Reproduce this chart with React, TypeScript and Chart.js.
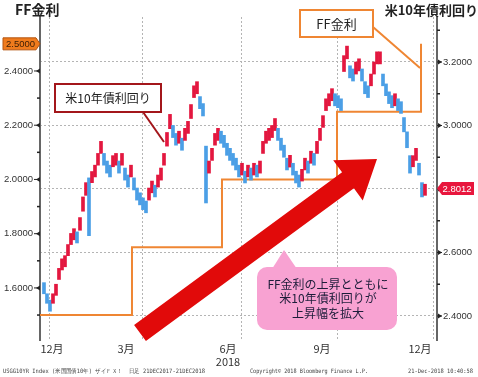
import React, { useEffect, useRef } from 'react';
import { Chart, registerables } from 'chart.js';

Chart.register(...registerables);

// US 10Y yield, daily-ish bars (every ~2 trading days), low / high
const yieldLow = [
  2.470, 2.440, 2.415, 2.440, 2.465, 2.515, 2.545, 2.555, 2.590, 2.625,
  2.640, 2.630, 2.670, 2.730, 2.780, 2.653, 2.820, 2.838, 2.875, 2.912,
  2.875, 2.850, 2.838, 2.870, 2.875, 2.850, 2.875, 2.828, 2.806, 2.838,
  2.797, 2.765, 2.750, 2.735, 2.725, 2.765, 2.788, 2.775, 2.806, 2.828,
  2.875, 2.935, 2.990, 2.962, 2.938, 2.944, 2.922, 2.953, 2.975, 3.022,
  3.088, 3.100, 3.053, 3.030, 2.756, 2.850, 2.890, 2.938, 2.953, 2.944,
  2.931, 2.906, 2.890, 2.875, 2.860, 2.838, 2.844, 2.819, 2.838, 2.828,
  2.844, 2.838, 2.850, 2.912, 2.944, 2.953, 2.962, 2.984, 2.953, 2.922,
  2.900, 2.860, 2.869, 2.844, 2.819, 2.806, 2.825, 2.860, 2.850, 2.881,
  2.875, 2.912, 2.953, 2.994, 3.047, 3.062, 3.078, 3.062, 3.056, 3.047,
  3.170, 3.210, 3.150, 3.140, 3.162, 3.172, 3.140, 3.100, 3.088, 3.125,
  3.162, 3.194, 3.194, 3.125, 3.094, 3.069, 3.056, 3.062, 3.047, 3.038,
  2.980, 2.930, 2.850, 2.870, 2.890, 2.844, 2.775, 2.780,
];
const yieldHigh = [
  2.505, 2.470, 2.450, 2.470, 2.500, 2.550, 2.580, 2.590, 2.625, 2.660,
  2.675, 2.665, 2.710, 2.775, 2.820, 2.835, 2.855, 2.875, 2.912, 2.950,
  2.912, 2.888, 2.875, 2.905, 2.912, 2.888, 2.912, 2.866, 2.844, 2.875,
  2.835, 2.803, 2.788, 2.772, 2.762, 2.803, 2.825, 2.812, 2.844, 2.866,
  2.912, 2.978, 3.035, 3.000, 2.975, 2.982, 2.960, 2.991, 3.013, 3.066,
  3.125, 3.138, 3.091, 3.069, 2.935, 2.888, 2.928, 2.975, 2.991, 2.982,
  2.969, 2.944, 2.928, 2.912, 2.897, 2.875, 2.881, 2.856, 2.875, 2.866,
  2.881, 2.875, 2.888, 2.950, 2.982, 2.991, 3.000, 3.022, 2.991, 2.960,
  2.938, 2.897, 2.906, 2.881, 2.856, 2.844, 2.862, 2.897, 2.888, 2.919,
  2.912, 2.950, 2.991, 3.031, 3.084, 3.100, 3.116, 3.100, 3.094, 3.084,
  3.220, 3.250, 3.188, 3.178, 3.200, 3.210, 3.178, 3.138, 3.125, 3.162,
  3.200, 3.232, 3.232, 3.162, 3.131, 3.106, 3.094, 3.100, 3.084, 3.075,
  3.025, 2.980, 2.905, 2.905, 2.928, 2.881, 2.820, 2.815,
];
const yieldLast = 2.8012;

// FF rate (upper bound) step line: change points on the day axis
const ffDays = [-1.33, 29.33, 59.33, 97.67, 125.67];
const ffRate = [1.5, 1.75, 2.0, 2.25, 2.5];

// x axis: quarter grid lines and month labels (day index positions)
const gridDays = [1.67, 33, 66, 97.67, 129.67];
const monthDays = [2.67, 27.33, 61.33, 92.67, 125.33];
const monthLabels: (string | string[])[] = ['12月', '3月', ['6月', '2018'], '9月', '12月'];

const leftTicks = [1.5, 1.6, 1.7, 1.8, 1.9, 2.0, 2.1, 2.2, 2.3, 2.4, 2.5];
const rightTicks = [2.4, 2.5, 2.6, 2.7, 2.8, 2.9, 3.0, 3.1, 3.2, 3.3];

const RED = '#e3173f';
const BLUE = '#4b9fe6';
const ORANGE = '#ef8633';
const AXIS = '#666666';
const GRID = '#b4b4b4';
const TEXT = '#333333';

const isMajor = (v: number) => Math.abs(Math.round(v * 10) % 2) === 0;

export default function App() {
  const ref = useRef<HTMLCanvasElement | null>(null);

  useEffect(() => {
    const canvas = ref.current;
    if (!canvas) return;

    const mids = yieldLow.map((lo, i) => (lo + yieldHigh[i]) / 2);
    const barColors = mids.map((m, i) => (i === 0 ? BLUE : m >= mids[i - 1] ? RED : BLUE));

    const overlay = {
      id: 'overlay',
      afterDraw(chart: any) {
        const ctx = chart.ctx as CanvasRenderingContext2D;
        const yL = chart.scales.yL;
        const yR = chart.scales.yR;
        const area = chart.chartArea;
        ctx.save();

        // tick markers
        ctx.fillStyle = '#222';
        ctx.strokeStyle = '#222';
        leftTicks.forEach((v) => {
          const y = yL.getPixelForValue(v);
          if (isMajor(v) && v <= 2.4 && v >= 1.6) {
            ctx.beginPath();
            ctx.moveTo(area.left - 6, y);
            ctx.lineTo(area.left, y);
            ctx.lineWidth = 1;
            ctx.stroke();
            ctx.beginPath();
            ctx.moveTo(area.left - 4, y);
            ctx.lineTo(area.left, y - 2.5);
            ctx.lineTo(area.left, y + 2.5);
            ctx.closePath();
            ctx.fill();
          } else {
            ctx.beginPath();
            ctx.moveTo(area.left - 3, y);
            ctx.lineTo(area.left, y);
            ctx.lineWidth = 1.5;
            ctx.stroke();
          }
        });
        rightTicks.forEach((v) => {
          const y = yR.getPixelForValue(v);
          if (isMajor(v)) {
            ctx.beginPath();
            ctx.moveTo(area.right, y);
            ctx.lineTo(area.right + 5, y);
            ctx.lineWidth = 1;
            ctx.stroke();
            ctx.beginPath();
            ctx.moveTo(area.right + 5, y);
            ctx.lineTo(area.right + 1, y - 2.5);
            ctx.lineTo(area.right + 1, y + 2.5);
            ctx.closePath();
            ctx.fill();
          } else {
            ctx.beginPath();
            ctx.moveTo(area.right, y);
            ctx.lineTo(area.right + 3, y);
            ctx.lineWidth = 1.5;
            ctx.stroke();
          }
        });

        // value flag on left axis (latest FF rate)
        const ffLast = ffRate[ffRate.length - 1];
        const cyL = yL.getPixelForValue(ffLast);
        ctx.beginPath();
        ctx.moveTo(3, cyL - 6);
        ctx.lineTo(area.left - 4, cyL - 6);
        ctx.lineTo(area.left, cyL);
        ctx.lineTo(area.left - 4, cyL + 6);
        ctx.lineTo(3, cyL + 6);
        ctx.closePath();
        ctx.fillStyle = '#f07b1d';
        ctx.fill();
        ctx.strokeStyle = '#b4540f';
        ctx.lineWidth = 1;
        ctx.stroke();
        ctx.fillStyle = '#3a1d05';
        ctx.font = '9.5px "Liberation Sans"';
        ctx.textAlign = 'center';
        ctx.textBaseline = 'middle';
        ctx.fillText(ffLast.toFixed(4), 20.5, cyL + 0.5);

        // value flag on right axis (latest yield)
        const cyR = yR.getPixelForValue(yieldLast);
        ctx.beginPath();
        ctx.moveTo(area.right, cyR);
        ctx.lineTo(area.right + 5, cyR - 6.5);
        ctx.lineTo(474, cyR - 6.5);
        ctx.lineTo(474, cyR + 6.5);
        ctx.lineTo(area.right + 5, cyR + 6.5);
        ctx.closePath();
        ctx.fillStyle = '#e8163d';
        ctx.fill();
        ctx.fillStyle = '#ffffff';
        ctx.fillText(yieldLast.toFixed(4), 457, cyR + 0.5);

        // titles
        ctx.fillStyle = '#222';
        ctx.font = 'bold 14px "Noto Sans CJK JP"';
        ctx.textAlign = 'left';
        ctx.fillText('FF金利', 15, 10);
        ctx.font = 'bold 13px "Noto Sans CJK JP"';
        ctx.textAlign = 'right';
        ctx.fillText('米10年債利回り', 478, 10);

        // big red arrow
        const sx = 140, sy = 333, tx = 377, ty = 159;
        const len = Math.hypot(tx - sx, ty - sy);
        const dx = (tx - sx) / len, dy = (ty - sy) / len;
        const nx = -dy, ny = dx;
        const headL = 36, headW = 25, shaftW = 10;
        const bx = tx - dx * headL, by = ty - dy * headL;
        ctx.beginPath();
        ctx.moveTo(sx + nx * shaftW, sy + ny * shaftW);
        ctx.lineTo(bx + nx * shaftW, by + ny * shaftW);
        ctx.lineTo(bx + nx * headW, by + ny * headW);
        ctx.lineTo(tx, ty);
        ctx.lineTo(bx - nx * headW, by - ny * headW);
        ctx.lineTo(bx - nx * shaftW, by - ny * shaftW);
        ctx.lineTo(sx - nx * shaftW, sy - ny * shaftW);
        ctx.closePath();
        ctx.fillStyle = '#e10a0a';
        ctx.fill();

        // 米10年債利回り callout
        ctx.strokeStyle = '#a3161b';
        ctx.lineWidth = 2;
        ctx.beginPath();
        ctx.moveTo(143, 112);
        ctx.lineTo(164, 142);
        ctx.stroke();
        ctx.fillStyle = '#ffffff';
        ctx.fillRect(55, 84, 106, 28);
        ctx.strokeRect(55, 84, 106, 28);
        ctx.fillStyle = '#222';
        ctx.font = '12px "Noto Sans CJK JP"';
        ctx.textAlign = 'center';
        ctx.fillText('米10年債利回り', 108, 98.5);

        // FF金利 callout
        ctx.strokeStyle = ORANGE;
        ctx.beginPath();
        ctx.moveTo(373, 27);
        ctx.lineTo(420, 68);
        ctx.stroke();
        ctx.fillStyle = '#ffffff';
        ctx.fillRect(300, 10, 73, 27);
        ctx.strokeRect(300, 10, 73, 27);
        ctx.fillStyle = '#222';
        ctx.font = '13px "Noto Sans CJK JP"';
        ctx.fillText('FF金利', 336.5, 24);

        // pink comment
        ctx.fillStyle = '#f8a2d2';
        ctx.beginPath();
        (ctx as any).roundRect(257, 267, 140, 63, 10);
        ctx.fill();
        ctx.beginPath();
        ctx.moveTo(272, 269);
        ctx.lineTo(284, 250);
        ctx.lineTo(297, 269);
        ctx.closePath();
        ctx.fill();
        ctx.fillStyle = '#1d1d3a';
        ctx.font = '12px "Noto Sans CJK JP"';
        ctx.fillText('FF金利の上昇とともに', 328, 284);
        ctx.fillText('米10年債利回りが', 328, 298.5);
        ctx.fillText('上昇幅を拡大', 328, 313);

        // footer
        ctx.fillStyle = '#444';
        ctx.font = '6px "DejaVu Sans Mono"';
        ctx.textAlign = 'left';
        ctx.fillText('USGG10YR Index (米国国債10年) ザイＦＸ！  日足 21DEC2017-21DEC2018', 3, 371, 202);
        ctx.fillText('Copyright\u00a9 2018 Bloomberg Finance L.P.', 250, 371, 118);
        ctx.fillText('21-Dec-2018 10:40:58', 408, 371, 65);

        ctx.restore();
      },
    };

    const chart = new Chart(canvas, {
      data: {
        datasets: [
          {
            type: 'line',
            data: ffDays.map((d, i) => ({ x: d, y: ffRate[i] })),
            xAxisID: 'xg',
            yAxisID: 'yL',
            stepped: 'before',
            borderColor: ORANGE,
            borderWidth: 2,
            pointRadius: 0,
            fill: false,
            order: 2,
          } as any,
          {
            type: 'bar',
            data: yieldLow.map((lo, i) => ({ x: i, y: [lo, yieldHigh[i]] })),
            xAxisID: 'xg',
            yAxisID: 'yR',
            backgroundColor: barColors,
            barThickness: 3,
            grouped: false,
            order: 1,
          } as any,
        ],
      },
      options: {
        responsive: false,
        animation: false,
        events: [],
        layout: { padding: { top: 17, left: 0, right: 0, bottom: 0 } },
        plugins: { legend: { display: false }, tooltip: { enabled: false } },
        scales: {
          xg: {
            type: 'linear',
            position: 'bottom',
            min: -1.33,
            max: 131,
            offset: false,
            afterBuildTicks: (s: any) => {
              s.ticks = gridDays.map((v) => ({ value: v }));
            },
            afterFit: (s: any) => {
              s.height = 0;
            },
            ticks: { display: false },
            grid: { color: GRID, lineWidth: 1, drawTicks: false, offset: false },
            border: { display: false, dash: [2, 2] },
          },
          xl: {
            type: 'linear',
            position: 'bottom',
            min: -1.33,
            max: 131,
            offset: false,
            afterBuildTicks: (s: any) => {
              s.ticks = monthDays.map((v) => ({ value: v }));
            },
            afterFit: (s: any) => {
              s.height = 37;
            },
            ticks: {
              autoSkip: false,
              maxRotation: 0,
              padding: 2,
              color: TEXT,
              font: { family: '"Noto Sans CJK JP"', size: 11 },
              callback: (_v: any, i: number) => monthLabels[i],
            },
            grid: { display: false, drawTicks: false, offset: false },
            border: { display: false },
          },
          yL: {
            type: 'linear',
            position: 'left',
            min: 1.408,
            max: 2.599,
            afterBuildTicks: (s: any) => {
              s.ticks = leftTicks.map((v) => ({ value: v }));
            },
            afterFit: (s: any) => {
              s.width = 40;
            },
            ticks: {
              padding: 7,
              color: TEXT,
              font: { family: '"Liberation Sans"', size: 9.5 },
              callback: (v: any) => (isMajor(v) && v >= 1.6 && v <= 2.4 ? Number(v).toFixed(4) : ''),
            },
            grid: { drawOnChartArea: false, drawTicks: false },
            border: { color: AXIS, width: 2 },
          },
          yR: {
            type: 'linear',
            position: 'right',
            min: 2.3244,
            max: 3.3417,
            afterBuildTicks: (s: any) => {
              s.ticks = rightTicks.map((v) => ({ value: v }));
            },
            afterFit: (s: any) => {
              s.width = 41;
            },
            ticks: {
              padding: 6,
              color: TEXT,
              font: { family: '"Liberation Sans"', size: 9.5 },
              callback: (v: any) => (isMajor(v) ? Number(v).toFixed(4) : ''),
            },
            grid: {
              drawTicks: false,
              color: (c: any) => (c.tick && isMajor(c.tick.value) ? GRID : 'rgba(0,0,0,0)'),
            },
            border: { color: AXIS, width: 2, dash: [2, 2] },
          },
        },
      },
      plugins: [overlay],
    } as any);

    return () => chart.destroy();
  }, []);

  return (
    <div style={{ position: 'absolute', left: 0, top: 0, width: 478, height: 377, background: '#fff' }}>
      <canvas ref={ref} width={478} height={377} style={{ display: 'block' }} />
    </div>
  );
}
